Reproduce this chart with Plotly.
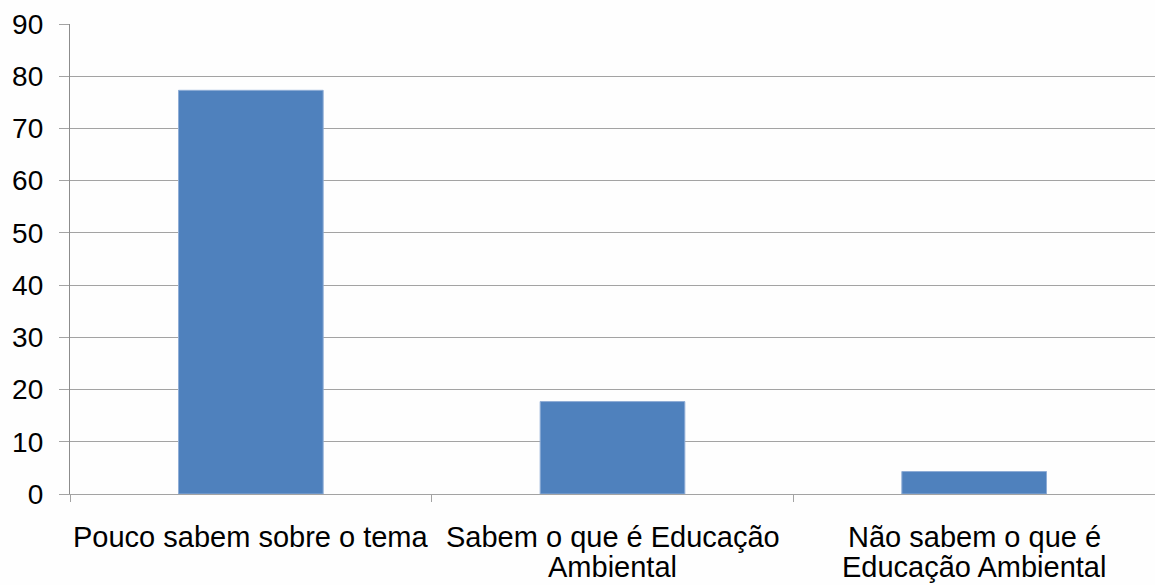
import plotly.graph_objects as go

categories = [
    "Pouco sabem sobre o tema",
    "Sabem o que é Educação Ambiental",
    "Não sabem o que é Educação Ambiental",
]
category_lines = [
    ["Pouco sabem sobre o tema"],
    ["Sabem o que é Educação", "Ambiental"],
    ["Não sabem o que é", "Educação Ambiental"],
]
values = [77.3, 17.7, 4.3]
y_ticks = [0, 10, 20, 30, 40, 50, 60, 70, 80, 90]

fig = go.Figure(
    go.Bar(
        x=categories,
        y=values,
        width=0.4,
        marker=dict(color="#4F81BD", line=dict(color="#8FADD6", width=1)),
    )
)

font = "Liberation Sans, Arial, sans-serif"

# category labels, one text line per annotation for tight line spacing
line_y = [-0.0925, -0.1555]
annotations = []
for cat, lines in zip(categories, category_lines):
    for i, txt in enumerate(lines):
        annotations.append(
            dict(
                x=cat,
                y=line_y[i],
                xref="x",
                yref="paper",
                text=txt,
                showarrow=False,
                xanchor="center",
                yanchor="middle",
                borderpad=0,
                font=dict(family=font, size=29, color="#000000"),
            )
        )

fig.update_layout(
    width=1155,
    height=585,
    margin=dict(l=70, r=0, t=24, b=91),
    paper_bgcolor="#FEFEFE",
    plot_bgcolor="#FEFEFE",
    showlegend=False,
    annotations=annotations,
)

fig.update_yaxes(
    range=[0, 90],
    tickvals=y_ticks,
    ticktext=[str(v) for v in y_ticks],
    showgrid=True,
    gridcolor="#A3A3A3",
    gridwidth=1.3,
    zeroline=False,
    showline=True,
    linecolor="#8C8C8C",
    linewidth=1.3,
    ticks="outside",
    ticklen=10,
    tickcolor="#A3A3A3",
    tickfont=dict(family=font, size=28, color="#000000"),
    ticklabelstandoff=10,
    automargin=False,
)

fig.update_xaxes(
    showline=True,
    linecolor="#A3A3A3",
    linewidth=1.3,
    ticks="outside",
    tickson="boundaries",
    ticklen=7,
    tickcolor="#A3A3A3",
    showticklabels=False,
    showgrid=False,
    automargin=False,
)

fig.write_html("out.html")
